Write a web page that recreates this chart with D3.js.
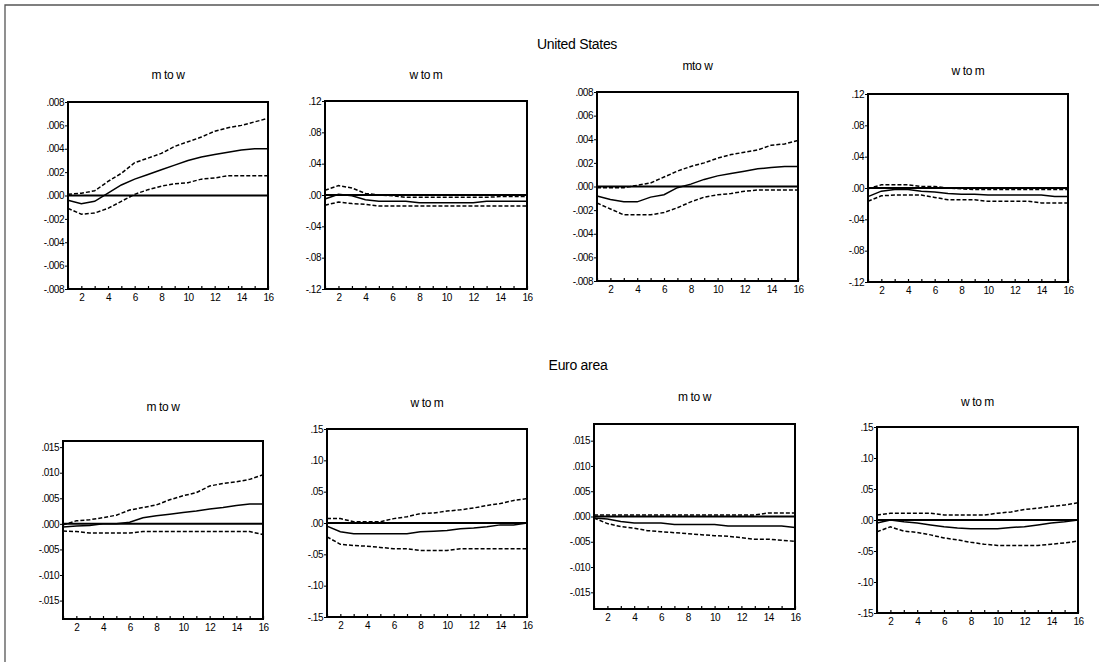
<!DOCTYPE html>
<html><head><meta charset="utf-8">
<script src="https://cdn.jsdelivr.net/npm/d3@7"></script>
<style>body{margin:0;background:#fff}svg{display:block;font-family:"Liberation Sans",Arial,sans-serif}</style>
</head><body><svg id="c" width="1099" height="662"></svg>
<script>
const periods = d3.range(1, 17);
const xTickLabels = [2,4,6,8,10,12,14,16];
const groupTitles = ["United States", "Euro area"];
const panelTitles = ["m to w","w to m","mto w","w to m","m to w","w to m","m to w","w to m"];

// US m to w (1)
const us1Resp  = [-0.0004,-0.0007,-0.0005,0.0002,0.0009,0.0014,0.0018,0.0022,0.0026,0.0030,0.0033,0.0035,0.0037,0.0039,0.0040,0.0040];
const us1Upper = [0.0001,0.0002,0.0004,0.0012,0.0019,0.0028,0.0032,0.0036,0.0042,0.0046,0.0050,0.0055,0.0058,0.0060,0.0063,0.0066];
const us1Lower = [-0.0011,-0.0016,-0.0015,-0.0011,-0.0005,0.0001,0.0005,0.0008,0.0010,0.0011,0.0014,0.0015,0.0017,0.0017,0.0017,0.0017];
// US w to m (2)
const us2Resp  = [-0.005,0.001,-0.001,-0.006,-0.008,-0.008,-0.008,-0.010,-0.010,-0.010,-0.010,-0.010,-0.008,-0.008,-0.008,-0.008];
const us2Upper = [0.006,0.012,0.009,0.002,0.000,-0.001,-0.003,-0.003,-0.003,-0.003,-0.003,-0.003,-0.003,-0.002,-0.002,-0.002];
const us2Lower = [-0.013,-0.009,-0.011,-0.012,-0.014,-0.014,-0.014,-0.014,-0.014,-0.014,-0.014,-0.014,-0.014,-0.014,-0.014,-0.014];
// US m to w (3)
const us3Resp  = [-0.0008,-0.0011,-0.0013,-0.0013,-0.0009,-0.0007,-0.0001,0.0002,0.0006,0.0009,0.0011,0.0013,0.0015,0.0016,0.0017,0.0017];
const us3Upper = [-0.0001,-0.0001,-0.0001,0.0001,0.0003,0.0008,0.0013,0.0017,0.0020,0.0024,0.0027,0.0029,0.0031,0.0035,0.0036,0.0039];
const us3Lower = [-0.0014,-0.0019,-0.0024,-0.0024,-0.0024,-0.0022,-0.0018,-0.0013,-0.0009,-0.0007,-0.0006,-0.0004,-0.0003,-0.0003,-0.0003,-0.0003];
// US w to m (4)
const us4Resp  = [-0.011,-0.004,-0.002,-0.002,-0.004,-0.005,-0.007,-0.008,-0.008,-0.009,-0.009,-0.009,-0.009,-0.009,-0.011,-0.011];
const us4Upper = [-0.001,0.004,0.004,0.004,0.002,0.002,0.000,-0.001,-0.002,-0.002,-0.002,-0.002,-0.002,-0.002,-0.002,-0.002];
const us4Lower = [-0.017,-0.010,-0.009,-0.009,-0.009,-0.012,-0.015,-0.015,-0.015,-0.017,-0.017,-0.017,-0.017,-0.019,-0.019,-0.019];
// Euro m to w (5)
const eu1Resp  = [-0.0006,-0.0004,-0.0003,0.0000,0.0000,0.0003,0.0012,0.0016,0.0019,0.0022,0.0025,0.0029,0.0032,0.0036,0.0039,0.0039];
const eu1Upper = [-0.0002,0.0006,0.0008,0.0012,0.0017,0.0027,0.0032,0.0037,0.0047,0.0055,0.0061,0.0074,0.0079,0.0082,0.0087,0.0096];
const eu1Lower = [-0.0014,-0.0015,-0.0018,-0.0018,-0.0018,-0.0018,-0.0015,-0.0015,-0.0015,-0.0015,-0.0015,-0.0015,-0.0015,-0.0015,-0.0015,-0.0021];
// Euro w to m (6)
const eu2Resp  = [-0.005,-0.014,-0.017,-0.017,-0.017,-0.017,-0.017,-0.014,-0.013,-0.012,-0.009,-0.008,-0.006,-0.003,-0.003,0.000];
const eu2Upper = [0.007,0.007,0.002,0.002,0.002,0.007,0.010,0.015,0.016,0.019,0.021,0.024,0.028,0.031,0.036,0.039];
const eu2Lower = [-0.022,-0.034,-0.036,-0.037,-0.039,-0.041,-0.041,-0.044,-0.044,-0.044,-0.041,-0.041,-0.041,-0.041,-0.041,-0.041];
// Euro m to w (7)
const eu3Resp  = [-0.0003,-0.0005,-0.0010,-0.0013,-0.0013,-0.0013,-0.0016,-0.0016,-0.0016,-0.0016,-0.0019,-0.0019,-0.0019,-0.0019,-0.0019,-0.0022];
const eu3Upper = [0.0003,0.0003,0.0003,0.0003,0.0003,0.0003,0.0003,0.0003,0.0003,0.0003,0.0003,0.0003,0.0003,0.0007,0.0007,0.0007];
const eu3Lower = [-0.0003,-0.0014,-0.0020,-0.0023,-0.0028,-0.0030,-0.0032,-0.0034,-0.0036,-0.0038,-0.0039,-0.0042,-0.0045,-0.0045,-0.0047,-0.0049];
// Euro w to m (8)
const eu4Resp  = [-0.005,0.000,-0.003,-0.005,-0.008,-0.011,-0.013,-0.014,-0.014,-0.014,-0.012,-0.011,-0.008,-0.005,-0.003,0.000];
const eu4Upper = [0.008,0.011,0.011,0.011,0.011,0.008,0.008,0.008,0.008,0.011,0.013,0.017,0.019,0.022,0.024,0.028];
const eu4Lower = [-0.019,-0.011,-0.018,-0.020,-0.024,-0.029,-0.032,-0.036,-0.039,-0.041,-0.041,-0.041,-0.041,-0.039,-0.037,-0.034];

const yTicksA = [-0.008,-0.006,-0.004,-0.002,0,0.002,0.004,0.006,0.008];
const yTicksB = [-0.12,-0.08,-0.04,0,0.04,0.08,0.12];
const yTicksC = [-0.015,-0.010,-0.005,0,0.005,0.010,0.015];
const yTicksD = [-0.15,-0.10,-0.05,0,0.05,0.10,0.15];

const seriesSets = [
  [us1Resp,us1Upper,us1Lower],[us2Resp,us2Upper,us2Lower],[us3Resp,us3Upper,us3Lower],[us4Resp,us4Upper,us4Lower],
  [eu1Resp,eu1Upper,eu1Lower],[eu2Resp,eu2Upper,eu2Lower],[eu3Resp,eu3Upper,eu3Lower],[eu4Resp,eu4Upper,eu4Lower]
];
const tickSets = [yTicksA,yTicksB,yTicksA,yTicksB,yTicksC,yTicksD,yTicksC,yTicksD];
const decimals = [3,2,3,2,3,2,3,2];
const domains = [[-0.008,0.008],[-0.12,0.12],[-0.008,0.008],[-0.12,0.12],[-0.0186,0.0162],[-0.15,0.15],[-0.0183,0.0183],[-0.15,0.15]];

// layout (pixel boxes)
const boxes = [
  {x0:68,x1:268,y0:102,y1:289,ty:75},
  {x0:325,x1:527,y0:101,y1:289,ty:75},
  {x0:597,x1:798,y0:92,y1:281,ty:66},
  {x0:868,x1:1068,y0:94,y1:282,ty:71},
  {x0:63,x1:263,y0:441,y1:619,ty:407},
  {x0:327,x1:527,y0:429,y1:617,ty:403},
  {x0:594,x1:795,y0:424,y1:609,ty:397},
  {x0:877,x1:1078,y0:427,y1:613,ty:402}
];

const svg = d3.select("#c");
// outer frame
svg.append("path").attr("d","M5,662V5H1099").attr("fill","none").attr("stroke","#555").attr("stroke-width",1.3);

svg.append("text").attr("x",577).attr("y",49).attr("text-anchor","middle").attr("font-size",14).attr("letter-spacing","-0.3").text(groupTitles[0]);
svg.append("text").attr("x",578).attr("y",370).attr("text-anchor","middle").attr("font-size",14).attr("letter-spacing","-0.3").text(groupTitles[1]);

function fmt(v, d){
  if (Math.abs(v) < 1e-12) return "." + "0".repeat(d);
  let s = Math.abs(v).toFixed(d).replace(/^0/, "");
  return (v < 0 ? "-" : "") + s;
}

boxes.forEach((b, i) => {
  const g = svg.append("g");
  const x = d3.scaleLinear().domain([1,16]).range([b.x0,b.x1]);
  const y = d3.scaleLinear().domain(domains[i]).range([b.y1,b.y0]);
  g.append("text").attr("x",(b.x0+b.x1)/2).attr("y",b.ty+4).attr("text-anchor","middle")
    .attr("font-size",12).attr("letter-spacing","-0.4").text(panelTitles[i]);

  // y axis
  const ya = d3.axisLeft(y).tickValues(tickSets[i]).tickSize(3).tickPadding(1).tickFormat(v => fmt(v, decimals[i]));
  const yg = g.append("g").attr("transform",`translate(${b.x0},0)`).call(ya);
  yg.select(".domain").remove();
  yg.selectAll("text").attr("font-size",10).attr("letter-spacing","-0.5").attr("font-family","Liberation Sans, Arial, sans-serif");
  yg.selectAll("line").attr("stroke-width",1);

  // x axis
  const xa = d3.axisBottom(x).tickValues(periods).tickSize(-3).tickPadding(5).tickFormat(v => xTickLabels.includes(v) ? String(v) : "");
  const xg = g.append("g").attr("transform",`translate(0,${b.y1})`).call(xa);
  xg.select(".domain").remove();
  xg.selectAll("text").attr("font-size",10).attr("letter-spacing","-0.5").attr("font-family","Liberation Sans, Arial, sans-serif");
  xg.selectAll("line").attr("stroke-width",1.2);

  const line = d3.line().x((d,k) => x(periods[k])).y(d => y(d));
  const [resp, up, lo] = seriesSets[i];
  g.append("line").attr("x1",b.x0).attr("x2",b.x1).attr("y1",y(0)).attr("y2",y(0)).attr("stroke","#000").attr("stroke-width",2);
  [up, lo].forEach(s => g.append("path").datum(s).attr("d",line).attr("fill","none").attr("stroke","#000").attr("stroke-width",1.5).attr("stroke-dasharray","4,2"));
  g.append("path").datum(resp).attr("d",line).attr("fill","none").attr("stroke","#000").attr("stroke-width",1.5);

  g.append("rect").attr("x",b.x0).attr("y",b.y0).attr("width",b.x1-b.x0).attr("height",b.y1-b.y0)
    .attr("fill","none").attr("stroke","#000").attr("stroke-width",2);
});
</script></body></html>
